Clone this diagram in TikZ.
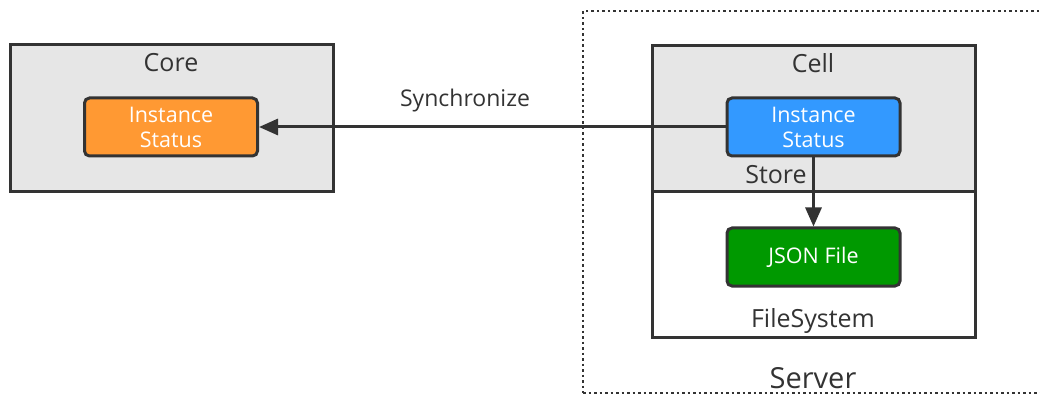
\documentclass[tikz,border=0pt]{standalone}
\usepackage{fontspec}
\setmainfont{Open Sans}
\usepackage{xcolor}
\usetikzlibrary{arrows.meta}
\definecolor{edge}{HTML}{333333}
\definecolor{panel}{HTML}{E6E6E6}
\definecolor{corefill}{HTML}{FF9933}
\definecolor{cellfill}{HTML}{3399FF}
\definecolor{filefill}{HTML}{009900}

\begin{document}
\begin{tikzpicture}[x=1pt,y=-1pt,
  frame/.style={draw=edge,line width=3pt,inner sep=0pt,minimum width=323pt},
  item/.style={draw=edge,line width=3pt,rounded corners=5pt,minimum width=173pt,
               minimum height=58pt,inner sep=0pt,align=center,text=white,
               font=\fontsize{21.5}{25}\selectfont},
  title/.style={text=edge,font=\fontsize{25}{28}\selectfont},
  arr/.style={-{Triangle[length=19pt,width=16pt]},line width=3pt,draw=edge}]

  \clip (0,0) rectangle (1040,395);

  \node[draw=edge,line width=2.5pt,dash pattern=on 2.5pt off 3pt,minimum width=466pt,
        minimum height=382pt] (server) at (816,202) {};

  \node[frame,fill=panel,minimum height=147pt] (core)  at (171.5,118.5) {};
  \node[frame,fill=panel,minimum height=146pt] (store) at (813.5,119)   {};
  \node[frame,fill=white,minimum height=145pt] (fs)    at (813.5,264.5) {};

  \node[item,fill=corefill] (coresta) at (171,127)   {Instance\\Status};
  \node[item,fill=cellfill] (cellsta) at (813.5,127) {Instance\\Status};
  \node[item,fill=filefill] (json)    at (813.5,257) {JSON File};

  \draw[arr] (cellsta) -- (coresta);
  \draw[arr] (cellsta) -- (json);

  \node[title] (corelbl)  at (171,63)  {Core};
  \node[title] (celllbl)  at (813,63)  {Cell};
  \node[title] (storelbl) at (776,175) {Store};
  \node[title] (fslbl)    at (813,321) {FileSystem};
  \node[title,font=\fontsize{23}{26}\selectfont] (synclbl) at (465,101) {Synchronize};
  \node[title,font=\fontsize{29}{32}\selectfont] (srvlbl)  at (813,378) {Server};
\end{tikzpicture}
\end{document}
